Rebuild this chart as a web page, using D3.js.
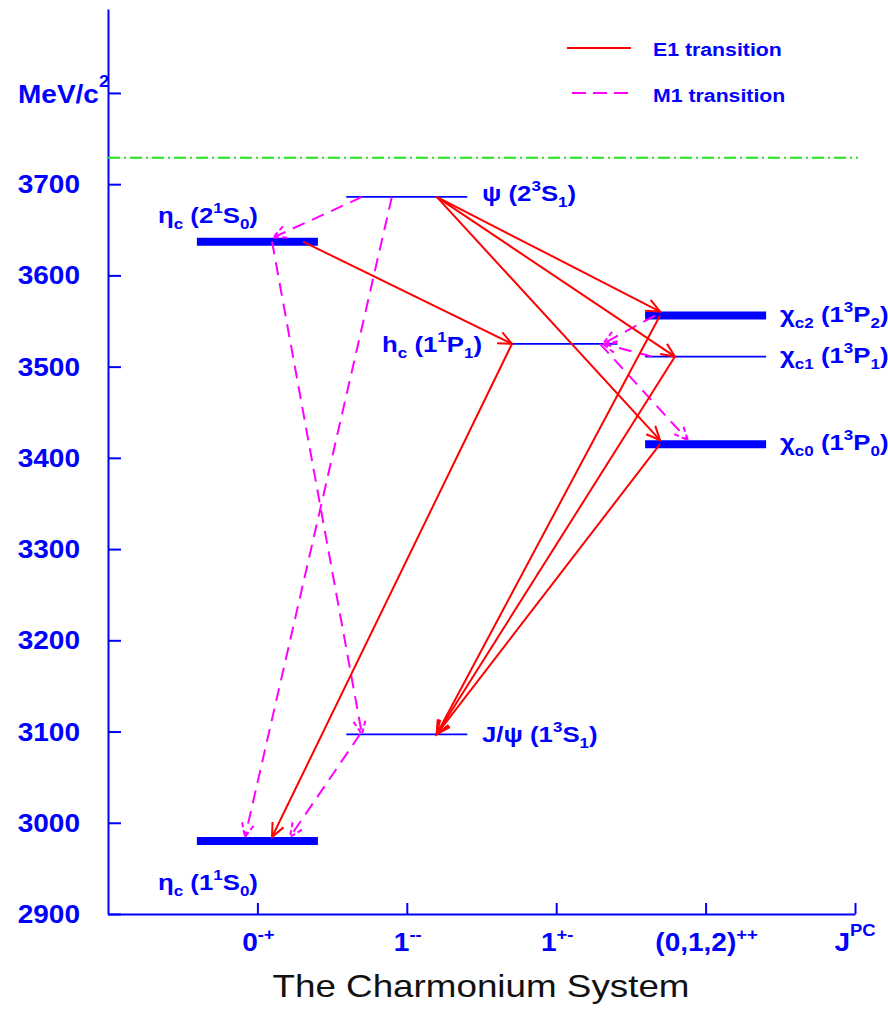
<!DOCTYPE html>
<html lang="en">
<head>
<meta charset="UTF-8">
<title>The Charmonium System</title>
<script src="https://d3js.org/d3.v7.min.js"></script>
<style>
  body { margin: 0; background: #fff; }
  svg text { font-family: "Liberation Sans", Arial, sans-serif; }
</style>
</head>
<body>
<svg width="888" height="1011"></svg>
<script>
// energy levels (MeV/c^2), column = index on the J^PC axis
const levelNames  = ["etac1S", "jpsi", "etac2S", "psi2S", "hc", "chic0", "chic1", "chic2"];
const levelMasses = [2980, 3097, 3637, 3686, 3525, 3415, 3511, 3556];
const levelJpc    = [1, 2, 1, 2, 3, 4, 4, 4];
const levelThick  = [true, false, true, false, false, true, false, true];

// D Dbar threshold
const threshold = 3729;

// axis ticks
const massTicks = [2900, 3000, 3100, 3200, 3300, 3400, 3500, 3600, 3700, 3800];
const jpcTicks  = [1, 2, 3, 4, 5];
const jpcLabels = [["0", "-+"], ["1", "--"], ["1", "+-"], ["(0,1,2)", "++"], ["J", "PC"]];

// E1 transitions (x0/x1 = where the arrow meets each level, J^PC units)
const e1From = ["psi2S", "psi2S", "psi2S", "chic2", "chic1", "chic0", "etac2S", "hc"];
const e1To   = ["chic2", "chic1", "chic0", "jpsi", "jpsi", "jpsi", "hc", "etac1S"];
const e1X0   = [2.20, 2.20, 2.20, 3.695, 3.795, 3.695, 1.305, 2.704];
const e1X1   = [3.695, 3.795, 3.695, 2.20, 2.20, 2.20, 2.704, 1.098];

// M1 transitions
const m1From = ["psi2S", "psi2S", "etac2S", "jpsi", "chic2", "chic1", "hc"];
const m1To   = ["etac2S", "etac1S", "jpsi", "etac1S", "hc", "hc", "chic0"];
const m1X0   = [1.70, 1.90, 1.098, 1.687, 3.66, 3.64, 3.293];
const m1X1   = [1.104, 0.917, 1.70, 1.218, 3.313, 3.313, 3.882];

const blue = "#0000ff", red = "#ff0000", magenta = "#ff00ff", green = "#22dd22";
const SX = 1.12; // glyphs in the original are a bit wide

const svg = d3.select("svg");
const x = d3.scaleLinear().domain([0, 5]).range([108, 855]);
const y = d3.scaleLinear().domain([2900, 3892]).range([914, 9]);

const lvl = {};
levelNames.forEach((n, i) => lvl[n] = { m: levelMasses[i], c: levelJpc[i], thick: levelThick[i] });

// text with sub/superscripts: parts = [text, "sup"|"sub"|""]
function richText(px, py, parts, o) {
  const size = o.size;
  const t = svg.append("text")
    .attr("transform", `translate(${px},${py}) scale(${o.sx || SX},1)`)
    .attr("text-anchor", o.anchor || "start")
    .attr("font-size", size)
    .attr("font-weight", o.weight || "bold")
    .attr("fill", o.color || blue);
  let cur = 0;
  parts.forEach(p => {
    const kind = p[1] || "";
    const target = kind === "sup" ? -(o.supShift || 0.45) * size : kind === "sub" ? 0.28 * size : 0;
    const ts = t.append("tspan").text(p[0]).attr("dy", target - cur);
    if (kind) ts.attr("font-size", size * (o.small || 0.66));
    cur = target;
  });
  return t;
}

// axes
const yAxis = d3.axisLeft(y).tickValues(massTicks).tickSizeInner(-13).tickSizeOuter(0).tickFormat("");
svg.append("g").attr("transform", `translate(${x(0)},0)`).call(yAxis)
  .call(g => g.selectAll("path,line").attr("stroke", blue).attr("stroke-width", 2));
const xAxis = d3.axisBottom(x).tickValues(jpcTicks).tickSizeInner(-11).tickSizeOuter(0).tickFormat("");
svg.append("g").attr("transform", `translate(0,${y(2900)})`).call(xAxis)
  .call(g => g.selectAll("path,line").attr("stroke", blue).attr("stroke-width", 2));

massTicks.forEach(v => {
  if (v === 3800) {
    richText(18, y(v) + 10, [["MeV/c"], ["2", "sup"]], { size: 25, supShift: 0.62 });
  } else {
    richText(80, y(v) + 9, [[String(v)]], { size: 25, anchor: "end" });
  }
});
jpcTicks.forEach((v, i) => {
  const lab = jpcLabels[i];
  richText(x(v) + (i === 4 ? 0 : 1), 951, [[lab[0]], [lab[1], "sup"]],
    { size: 25, anchor: "middle", supShift: i === 4 ? 0.6 : 0.45 });
});

// threshold line
svg.append("line")
  .attr("x1", x(0)).attr("x2", x(5) + 3)
  .attr("y1", y(threshold)).attr("y2", y(threshold))
  .attr("stroke", green).attr("stroke-width", 2).attr("stroke-dasharray", "12,4,2,4");

// levels
const halfW = 0.405;
levelNames.forEach(n => {
  const L = lvl[n];
  let a = L.c - halfW, b = L.c + halfW;
  if (n === "hc") { a = 2.704; b = 3.41; }
  svg.append("line")
    .attr("x1", x(a)).attr("x2", x(b))
    .attr("y1", y(L.m)).attr("y2", y(L.m))
    .attr("stroke", blue).attr("stroke-width", L.thick ? 8 : 1.7);
});

// arrows
function arrow(from, to, u0, u1, color, dash, head) {
  const A = lvl[from], B = lvl[to];
  const x0 = x(u0), y0 = y(A.m);
  const x1 = x(u1);
  let y1 = y(B.m);
  if (B.thick) y1 += (B.m < A.m ? -4 : 4);
  svg.append("line")
    .attr("x1", x0).attr("y1", y0).attr("x2", x1).attr("y2", y1)
    .attr("stroke", color).attr("stroke-width", 2)
    .attr("stroke-dasharray", dash);
  const ang = Math.atan2(y1 - y0, x1 - x0), len = 15, sp = 0.42;
  const p1 = [x1 - len * Math.cos(ang - sp), y1 - len * Math.sin(ang - sp)];
  const p2 = [x1 - len * Math.cos(ang + sp), y1 - len * Math.sin(ang + sp)];
  svg.append("path")
    .attr("d", `M${p1[0]},${p1[1]}L${x1},${y1}L${p2[0]},${p2[1]}`)
    .attr("fill", "none").attr("stroke", color).attr("stroke-width", 2)
    .attr("stroke-dasharray", head);
}
m1From.forEach((f, i) => arrow(f, m1To[i], m1X0[i], m1X1[i], magenta, "13,8", "5,3"));
e1From.forEach((f, i) => arrow(f, e1To[i], e1X0[i], e1X1[i], red, null, null));

// level labels
const lab = { size: 23 };
richText(158, 223, [["η"], ["c", "sub"], [" (2"], ["1", "sup"], ["S"], ["0", "sub"], [")"]], lab);
richText(482, 201, [["ψ (2"], ["3", "sup"], ["S"], ["1", "sub"], [")"]], lab);
richText(482, 352, [["h"], ["c", "sub"], [" (1"], ["1", "sup"], ["P"], ["1", "sub"], [")"]], { size: 23, anchor: "end" });
richText(482, 742, [["J/ψ (1"], ["3", "sup"], ["S"], ["1", "sub"], [")"]], lab);
richText(780, 322, [["χ"], ["c2", "sub"], [" (1"], ["3", "sup"], ["P"], ["2", "sub"], [")"]], lab);
richText(780, 363, [["χ"], ["c1", "sub"], [" (1"], ["3", "sup"], ["P"], ["1", "sub"], [")"]], lab);
richText(780, 450, [["χ"], ["c0", "sub"], [" (1"], ["3", "sup"], ["P"], ["0", "sub"], [")"]], lab);
richText(158, 890, [["η"], ["c", "sub"], [" (1"], ["1", "sup"], ["S"], ["0", "sub"], [")"]], lab);

// legend
svg.append("line").attr("x1", 567).attr("x2", 631).attr("y1", 48).attr("y2", 48)
  .attr("stroke", red).attr("stroke-width", 2);
richText(653, 56, [["E1 transition"]], { size: 19 });
svg.append("line").attr("x1", 572).attr("x2", 631).attr("y1", 93).attr("y2", 93)
  .attr("stroke", magenta).attr("stroke-width", 2).attr("stroke-dasharray", "14,7");
richText(653, 102, [["M1 transition"]], { size: 19 });

// title
richText(481, 997, [["The Charmonium System"]],
  { size: 32, anchor: "middle", weight: "normal", color: "#111", sx: 1.15 });
</script>
</body>
</html>
